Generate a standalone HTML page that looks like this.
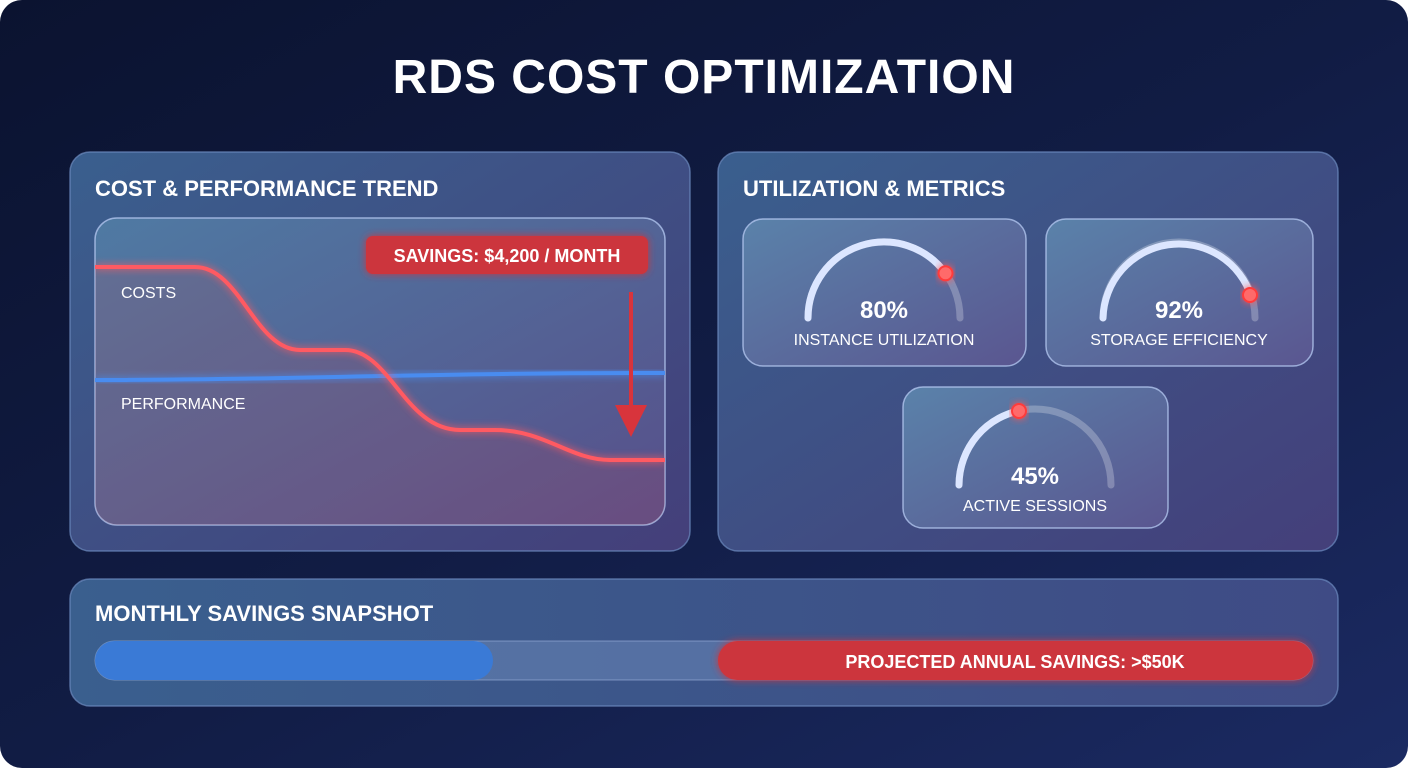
<!DOCTYPE html>
<html><head><meta charset="utf-8"><style>
html,body{margin:0;padding:0;background:#fff;}
svg{display:block;}
text{font-family:"Liberation Sans","DejaVu Sans",sans-serif;fill:#fff;}
</style></head><body>
<svg width="1408" height="768" viewBox="0 0 1408 768" xmlns="http://www.w3.org/2000/svg">
<defs>
<linearGradient id="bg" x1="0" y1="0" x2="1" y2="1">
<stop offset="0" stop-color="#0b1330"/><stop offset="0.5" stop-color="#111c44"/><stop offset="1" stop-color="#1b2a62"/>
</linearGradient>
<linearGradient id="panel" x1="0" y1="0" x2="1" y2="1">
<stop offset="0" stop-color="#3a5f8e"/><stop offset="1" stop-color="#443f7a"/>
</linearGradient>
<linearGradient id="card" x1="0" y1="0" x2="1" y2="1">
<stop offset="0" stop-color="#5a82aa"/><stop offset="1" stop-color="#5a5690"/>
</linearGradient>
<linearGradient id="chart" x1="0" y1="0" x2="1" y2="1">
<stop offset="0" stop-color="#4f7aa3"/><stop offset="1" stop-color="#574f8a"/>
</linearGradient>
<linearGradient id="bot" x1="0" y1="0" x2="1" y2="0">
<stop offset="0" stop-color="#3a5f8e"/><stop offset="1" stop-color="#3f4b85"/>
</linearGradient>
<clipPath id="cc"><rect x="95" y="218" width="570" height="307" rx="22"/></clipPath>
<filter id="glow" x="-20%" y="-50%" width="140%" height="200%"><feGaussianBlur stdDeviation="4" result="b"/><feMerge><feMergeNode in="b"/><feMergeNode in="SourceGraphic"/></feMerge></filter>
</defs>
<rect x="0" y="0" width="1408" height="768" rx="22" fill="url(#bg)"/>
<text x="704" y="93" text-anchor="middle" font-size="48" font-weight="bold" letter-spacing="1">RDS COST OPTIMIZATION</text>

<!-- left panel -->
<rect x="70" y="152" width="620" height="399" rx="20" fill="url(#panel)" stroke="#6d8bc0" stroke-opacity="0.7" stroke-width="1.5"/>
<text x="95" y="196" font-size="22" font-weight="bold">COST &amp; PERFORMANCE TREND</text>
<rect x="95" y="218" width="570" height="307" rx="22" fill="url(#chart)" stroke="#b0c4ee" stroke-opacity="0.8" stroke-width="1.5"/>
<g clip-path="url(#cc)">
<path d="M95,267 L195,267 C240,267 255,350 300,350 L345,350 C390,350 405,430 460,430 L495,430 C545,430 570,460 610,460 L665,460 L665,525 L95,525 Z" fill="#c8404a" opacity="0.15"/>
<path d="M95,380 C300,380 400,373 665,373" stroke="#4a8cf0" stroke-width="4" fill="none" filter="url(#glow)"/>
<path d="M95,267 L195,267 C240,267 255,350 300,350 L345,350 C390,350 405,430 460,430 L495,430 C545,430 570,460 610,460 L665,460" stroke="#ff5a62" stroke-width="4" fill="none" filter="url(#glow)"/>
</g>
<text x="121" y="298" font-size="16">COSTS</text>
<text x="121" y="409" font-size="16">PERFORMANCE</text>
<rect x="366" y="236" width="282" height="38" rx="7" fill="#cc343c" filter="url(#glow)"/>
<text x="507" y="262" text-anchor="middle" font-size="18" font-weight="bold">SAVINGS: $4,200 / MONTH</text>
<line x1="631" y1="292" x2="631" y2="412" stroke="#d8343c" stroke-width="4"/>
<polygon points="615,405 647,405 631,437" fill="#d8343c"/>

<!-- right panel -->
<rect x="718" y="152" width="620" height="399" rx="20" fill="url(#panel)" stroke="#6d8bc0" stroke-opacity="0.7" stroke-width="1.5"/>
<text x="743" y="196" font-size="22" font-weight="bold">UTILIZATION &amp; METRICS</text>

<rect x="743" y="219" width="283" height="147" rx="20" fill="url(#card)" stroke="#b0c4ee" stroke-opacity="0.8" stroke-width="1.5"/>
<path d="M808,318 A76,76 0 0 1 960,318" stroke="#ffffff" stroke-opacity="0.25" stroke-width="7" stroke-linecap="round" fill="none"/>
<path d="M808,318 A76,76 0 0 1 945.5,273.3" stroke="#dce6ff" stroke-width="7" stroke-linecap="round" fill="none"/>
<circle cx="945.5" cy="273.3" r="7" fill="#ff6a6a" stroke="#ff3a3a" stroke-width="2" filter="url(#glow)"/>
<text x="884" y="318" text-anchor="middle" font-size="24" font-weight="bold">80%</text>
<text x="884" y="345" text-anchor="middle" font-size="16">INSTANCE UTILIZATION</text>

<rect x="1046" y="219" width="267" height="147" rx="20" fill="url(#card)" stroke="#b0c4ee" stroke-opacity="0.8" stroke-width="1.5"/>
<path d="M1103,318 A76,76 0 0 1 1255,318" stroke="#ffffff" stroke-opacity="0.25" stroke-width="7" stroke-linecap="round" fill="none"/>
<path d="M1103,318 A76,76 0 0 1 1251.3,296.6" stroke="#dce6ff" stroke-width="7" stroke-linecap="round" fill="none"/>
<circle cx="1250" cy="295" r="7" fill="#ff6a6a" stroke="#ff3a3a" stroke-width="2" filter="url(#glow)"/>
<text x="1179" y="318" text-anchor="middle" font-size="24" font-weight="bold">92%</text>
<text x="1179" y="345" text-anchor="middle" font-size="16">STORAGE EFFICIENCY</text>

<rect x="903" y="387" width="265" height="141" rx="20" fill="url(#card)" stroke="#b0c4ee" stroke-opacity="0.8" stroke-width="1.5"/>
<path d="M959,485 A76,76 0 0 1 1111,485" stroke="#ffffff" stroke-opacity="0.25" stroke-width="7" stroke-linecap="round" fill="none"/>
<path d="M959,485 A76,76 0 0 1 1023.1,410" stroke="#dce6ff" stroke-width="7" stroke-linecap="round" fill="none"/>
<circle cx="1019" cy="411" r="7" fill="#ff6a6a" stroke="#ff3a3a" stroke-width="2" filter="url(#glow)"/>
<text x="1035" y="484" text-anchor="middle" font-size="24" font-weight="bold">45%</text>
<text x="1035" y="511" text-anchor="middle" font-size="16">ACTIVE SESSIONS</text>

<!-- bottom panel -->
<rect x="70" y="579" width="1268" height="127" rx="20" fill="url(#bot)" stroke="#6d8bc0" stroke-opacity="0.7" stroke-width="1.5"/>
<text x="95" y="621" font-size="22" font-weight="bold">MONTHLY SAVINGS SNAPSHOT</text>
<rect x="95" y="641" width="1218" height="39" rx="19.5" fill="#6a86b8" fill-opacity="0.55" stroke="#9fb4e0" stroke-opacity="0.6"/>
<rect x="95" y="641" width="398" height="39" rx="19.5" fill="#3a7ad6"/>
<rect x="718" y="641" width="595" height="39" rx="19.5" fill="#cc343c" filter="url(#glow)"/>
<text x="1015" y="668" text-anchor="middle" font-size="18" font-weight="bold">PROJECTED ANNUAL SAVINGS: &gt;$50K</text>
</svg>
</body></html>
